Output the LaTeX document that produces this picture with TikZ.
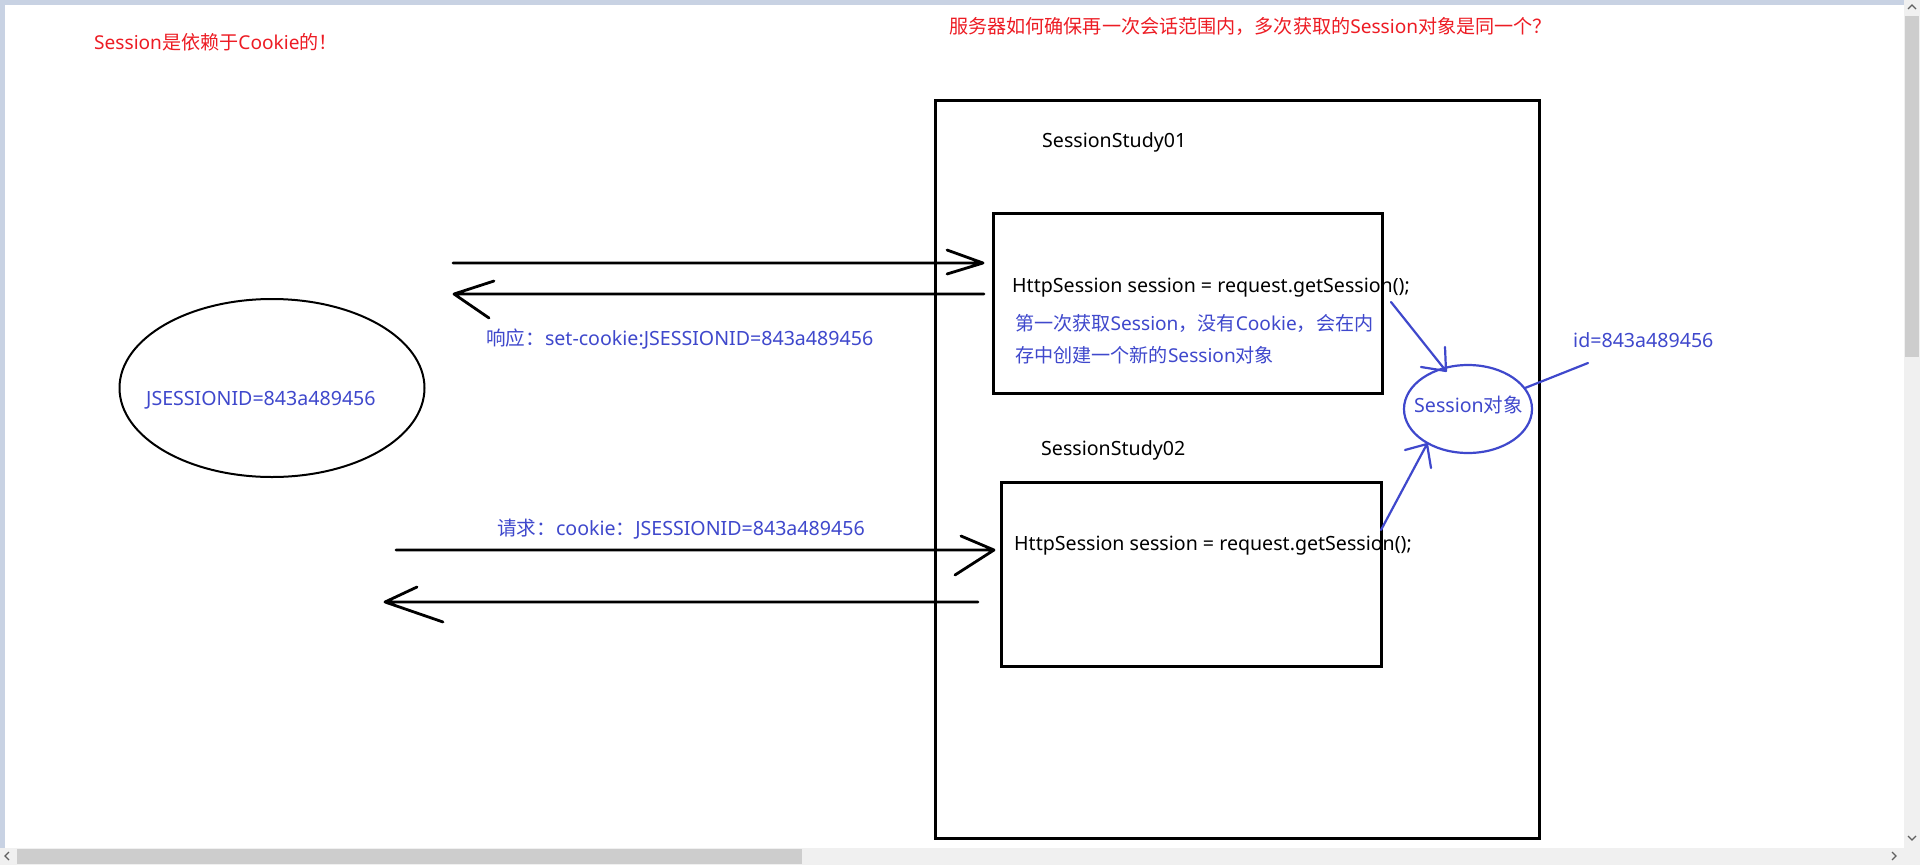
\documentclass[tikz,border=0pt]{standalone}
\usepackage{fontspec}
\setmainfont{Noto Sans}
\newfontfamily\cjk{Noto Sans CJK SC}
\usetikzlibrary{shapes.geometric}
\definecolor{pred}{RGB}{237,28,36}
\definecolor{pblue}{RGB}{63,72,204}
\definecolor{frameblue}{RGB}{200,210,227}
\definecolor{track}{RGB}{240,240,240}
\definecolor{thumb}{RGB}{205,205,205}
\definecolor{chev}{RGB}{96,96,96}
\tikzset{
  txt/.style={inner sep=0pt, anchor=base west, font=\fontsize{19.6}{22}\selectfont},
  redtxt/.style={txt, text=pred, font=\fontsize{19.1}{22}\selectfont},
  bluetxt/.style={txt, text=pblue},
  blktxt/.style={txt, text=black},
  notetxt/.style={txt, text=pblue, font=\fontsize{19.1}{22}\selectfont},
  boxframe/.style={draw=black, line width=2.8pt, inner sep=0pt, anchor=north west},
  blkarrow/.style={draw=black, line width=2.8pt, line cap=round, line join=round},
  bluearrow/.style={draw=pblue, line width=2.2pt, line cap=round, line join=round},
  chevron/.style={draw=chev, line width=1.3pt}
}
\begin{document}
\begin{tikzpicture}[x=1pt,y=-1pt]
\useasboundingbox (0,0) rectangle (1920,865);
% window chrome
\fill[white] (0,0) rectangle (1920,865);
\fill[frameblue] (0,0) rectangle (1904,5);
\fill[frameblue] (0,0) rectangle (5,848);
\fill[track] (1904,0) rectangle (1920,848);
\fill[thumb] (1905,16) rectangle (1919,357);
\fill[track] (0,848) rectangle (1920,865);
\fill[thumb] (17,849) rectangle (802,864);
\draw[chevron] (1908,9) -- (1912,5) -- (1916,9);
\draw[chevron] (1908,836) -- (1912,840) -- (1916,836);
\draw[chevron] (9,852) -- (5,856) -- (9,860);
\draw[chevron] (1892,852) -- (1896,856) -- (1892,860);

% titles
\node[redtxt] (t1) at (94,49) {Session{\cjk 是依赖于}Cookie{\cjk 的！}};
\node[redtxt] (t2) at (949,33) {{\cjk 服务器如何确保再一次会话范围内，多次获取的}Session{\cjk 对象是同一个？}};

% server box and servlets
\node[boxframe, minimum width=604pt, minimum height=738pt] (server) at (934,99) {};
\node[blktxt] (s1) at (1042,147) {SessionStudy01};
\node[boxframe, minimum width=389pt, minimum height=180pt] (box1) at (992,212) {};
\node[blktxt] (c1) at (1012,292) {HttpSession session = request.getSession();};
\node[notetxt] (n1) at (1015,330) {{\cjk 第一次获取}Session{\cjk ，没有}Cookie{\cjk ，会在内}};
\node[notetxt] (n2) at (1015,362) {{\cjk 存中创建一个新的}Session{\cjk 对象}};
\node[blktxt] (s2) at (1041,455) {SessionStudy02};
\node[boxframe, minimum width=380pt, minimum height=184pt] (box2) at (1000,481) {};
\node[blktxt] (c2) at (1014,550) {HttpSession session = request.getSession();};

% session object
\node[draw=pblue, line width=2.2pt, ellipse, minimum width=128pt, minimum height=88pt, inner sep=0pt] (sobj) at (1468,409) {};
\node[bluetxt] (sobjt) at (1414,412) {Session{\cjk 对象}};
\node[bluetxt] (sid) at (1573,347) {id=843a489456};

% client
\node[draw=black, line width=2pt, ellipse, minimum width=305pt, minimum height=178pt, inner sep=0pt] (client) at (272,388) {};
\node[bluetxt] (cid) at (146,405) {JSESSIONID=843a489456};

% message labels
\node[bluetxt] (resp) at (486,345) {{\cjk 响应：}set-cookie:JSESSIONID=843a489456};
\node[bluetxt] (req) at (497,535) {{\cjk 请求：}cookie{\cjk ：}JSESSIONID=843a489456};

% connector end points
\coordinate (a1s) at (453,263); \coordinate (a1e) at (983,263);
\coordinate (a2s) at (984,294); \coordinate (a2e) at (454,294);
\coordinate (a3s) at (396,550); \coordinate (a3e) at (994,550);
\coordinate (a4s) at (978,602); \coordinate (a4e) at (385,602);
\coordinate (b1s) at (1391,302); \coordinate (b1e) at (1446,371);
\coordinate (b2s) at (1381,530); \coordinate (b2e) at (1427,444);
\coordinate (b3s) at (1525,388); \coordinate (b3e) at (1588,363);

% black arrows
\draw[blkarrow] (a1s) -- (a1e) -- ++(-36,-13) (a1e) -- ++(-36,11);
\draw[blkarrow] (a2s) -- (a2e) -- ++(40,-13) (a2e) -- ++(35,24);
\draw[blkarrow] (a3s) -- (a3e) -- ++(-33,-14) (a3e) -- ++(-39,25);
\draw[blkarrow] (a4s) -- (a4e) -- ++(32,-15) (a4e) -- ++(58,20);

% blue arrows
\draw[bluearrow] (b1s) -- (b1e) -- ++(-1,-24) (b1e) -- ++(-25,-4);
\draw[bluearrow] (b2s) -- (b2e) -- ++(-22,6) (b2e) -- ++(4,24);
\draw[bluearrow] (b3s) -- (b3e);
\end{tikzpicture}
\end{document}
